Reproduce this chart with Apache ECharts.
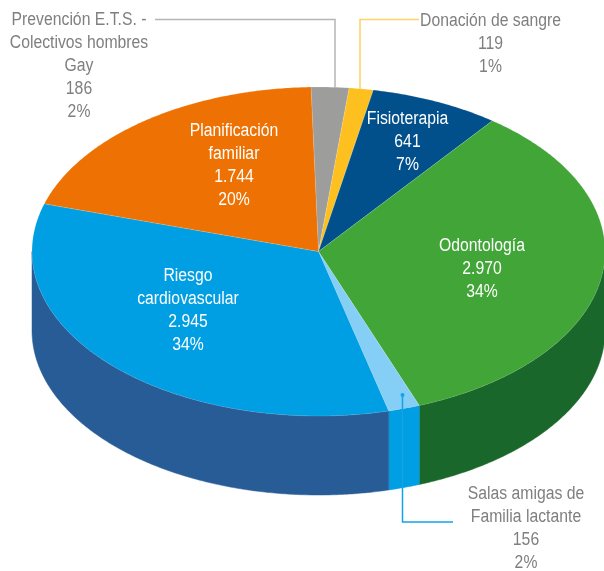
<!DOCTYPE html>
<html>
<head>
<meta charset="utf-8">
<title>Pie</title>
<script src="https://cdn.jsdelivr.net/npm/echarts@6/dist/echarts.min.js"></script>
<style>
html, body { margin: 0; padding: 0; background: #fff; }
#chart { width: 604px; height: 571px; }
</style>
</head>
<body>
<div id="chart"></div>
<script>
// clockwise from 12 o'clock
const categories = [
	'Prevención E.T.S. -\nColectivos hombres\nGay',
	'Donación de sangre',
	'Fisioterapia',
	'Odontología',
	'Salas amigas de\nFamilia lactante',
	'Riesgo\ncardiovascular',
	'Planificación\nfamiliar'
]
const values = [186, 119, 641, 2970, 156, 2945, 1744]

const topColors = ['#9d9d9c', '#fdc01e', '#02508b', '#41a637', '#85cef6', '#009ee2', '#ee7203']
const sideColors = ['#7b7b7a', '#c9981a', '#013c69', '#1a672b', '#009ee2', '#285c96', '#b85802']
const labelColors = ['#7f7f7f', '#7f7f7f', '#fff', '#fff', '#7f7f7f', '#fff', '#fff']
const labelCenters = [[79, 66], [490.5, 44], [407.5, 142], [482, 269], [526, 529], [188, 310.5], [234, 165.5]]

// leader lines
const leaders = [
	{ color: '#b5b5b5', points: [[155, 19.5], [335, 19.5], [335, 88]] },
	{ color: '#ffd166', points: [[419, 19.5], [360, 19.5], [360, 89]] },
	{ color: '#12a5e6', points: [[402.5, 395], [402.5, 522], [453, 522]], dot: true }
]

// pie projection
const cx = 318.5, cy = 251.5, rx = 286.5, ry = 164.5, depth = 79
const startAngle = -1.5

const total = values.reduce((a, b) => a + b, 0)
const angles = [startAngle]
values.forEach((v, i) => angles.push(angles[i] + v / total * 360))

function pt(deg, dy) {
	const r = deg * Math.PI / 180
	return [cx + rx * Math.sin(r), cy - ry * Math.cos(r) + (dy || 0)]
}

function arc(a0, a1, dy) {
	const pts = []
	const n = Math.max(2, Math.ceil(Math.abs(a1 - a0) * 2))
	for (let i = 0; i <= n; i++) {
		pts.push(pt(a0 + (a1 - a0) * i / n, dy))
	}
	return pts
}

function renderSide(params) {
	const i = params.dataIndex
	// only the front half of the wall shows
	const a0 = Math.max(angles[i], 90)
	const a1 = Math.min(angles[i + 1], 270)
	if (a1 <= a0) return { type: 'group', children: [] }
	return {
		type: 'polygon',
		shape: { points: arc(a0, a1, 0).concat(arc(a1, a0, depth)) },
		style: { fill: sideColors[i], stroke: sideColors[i], lineWidth: 0.5 }
	}
}

function renderTop(params) {
	const i = params.dataIndex
	return {
		type: 'polygon',
		shape: { points: [[cx, cy]].concat(arc(angles[i], angles[i + 1], 0)) },
		style: { fill: topColors[i], stroke: 'rgba(255,255,255,0.25)', lineWidth: 0.5 }
	}
}

function renderLeader(params) {
	const l = leaders[params.dataIndex]
	const children = [{
		type: 'polyline',
		shape: { points: l.points },
		style: { fill: 'none', stroke: l.color, lineWidth: 1.5 }
	}]
	if (l.dot) {
		children.push({
			type: 'circle',
			shape: { cx: l.points[0][0], cy: l.points[0][1], r: 2 },
			style: { fill: l.color }
		})
	}
	return { type: 'group', children: children }
}

function renderLabel(params, api) {
	const i = params.dataIndex
	const v = api.value(0)
	const text = categories[i] + '\n' + String(v).replace(/\B(?=(\d{3})+$)/g, '.') + '\n' + Math.round(v / total * 100) + '%'
	return {
		type: 'text',
		x: labelCenters[i][0],
		y: labelCenters[i][1],
		// no narrow font installed, squeeze the regular one
		scaleX: 0.875,
		style: {
			text: text,
			fill: labelColors[i],
			font: '18px "Liberation Sans", sans-serif',
			lineHeight: 23,
			align: 'center',
			verticalAlign: 'middle'
		}
	}
}

const chart = echarts.init(document.getElementById('chart'), null, { renderer: 'canvas' })
chart.setOption({
	animation: false,
	series: [
		{ type: 'custom', coordinateSystem: 'none', silent: true, z: 1, data: values, renderItem: renderSide },
		{ type: 'custom', coordinateSystem: 'none', silent: true, z: 2, data: values, renderItem: renderTop },
		{ type: 'custom', coordinateSystem: 'none', silent: true, z: 3, data: leaders.map((l, i) => i), renderItem: renderLeader },
		{ type: 'custom', coordinateSystem: 'none', silent: true, z: 4, data: values, renderItem: renderLabel }
	]
})
</script>
</body>
</html>
